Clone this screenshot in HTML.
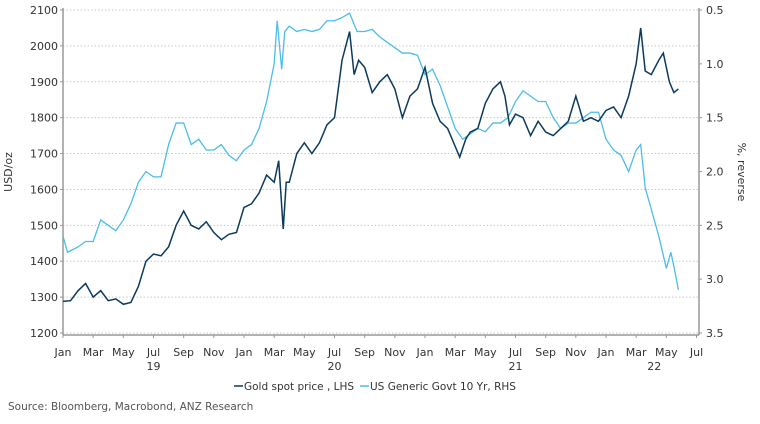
<!DOCTYPE html>
<html><head><meta charset="utf-8"><style>
body{margin:0;background:#fff;font-family:"Liberation Sans",sans-serif}
svg text{font-family:"DejaVu Sans","Liberation Sans",sans-serif;fill:#333}
</style></head><body>
<svg width="760" height="419">
<g id="grid"></g>
<g id="axes"></g>
<g id="series"></g>
<text x="12" y="172" font-size="11" transform="rotate(-90 12 172)" text-anchor="middle">USD/oz</text>
<text x="738" y="172" font-size="11" transform="rotate(90 738 172)" text-anchor="middle">%, reverse</text>
<g>
<line x1="234" y1="386" x2="243" y2="386" stroke="#0b3a5c" stroke-width="1.5"/>
<text x="244" y="390" font-size="10.5">Gold spot price , LHS</text>
<line x1="360" y1="386" x2="369" y2="386" stroke="#4bbde8" stroke-width="1.5"/>
<text x="370" y="390" font-size="10.5">US Generic Govt 10 Yr, RHS</text>
</g>
<text x="8" y="410" font-size="10.5" fill="#555" style="fill:#555">Source:  Bloomberg, Macrobond, ANZ Research</text>
</svg>
<script>
const goldT=[0,0.5,1,1.5,2,2.5,3,3.5,4,4.5,5,5.5,6,6.5,7,7.5,8,8.5,9,9.5,10,10.5,11,11.5,12,12.5,13,13.5,14,14.3,14.6,14.8,15,15.5,16,16.5,17,17.5,18,18.5,19,19.3,19.6,20,20.5,21,21.5,22,22.5,23,23.5,24,24.5,25,25.5,26,26.3,26.7,27,27.5,28,28.5,29,29.3,29.6,30,30.5,31,31.5,32,32.5,33,33.5,34,34.5,35,35.5,36,36.5,37,37.5,38,38.3,38.6,39,39.5,39.8,40.2,40.5,40.8];
const goldV=[1288,1290,1318,1338,1300,1318,1290,1295,1280,1285,1330,1400,1420,1415,1440,1500,1540,1500,1490,1510,1480,1460,1475,1480,1550,1560,1590,1640,1620,1680,1490,1620,1620,1700,1730,1700,1730,1780,1800,1960,2040,1920,1960,1940,1870,1900,1920,1880,1800,1860,1880,1940,1840,1790,1770,1720,1690,1740,1760,1770,1840,1880,1900,1860,1780,1810,1800,1750,1790,1760,1750,1770,1790,1860,1790,1800,1790,1820,1830,1800,1860,1950,2050,1930,1920,1960,1980,1900,1870,1880];
const yldT=[0,0.3,1,1.5,2,2.5,3,3.5,4,4.5,5,5.5,6,6.5,7,7.5,8,8.5,9,9.5,10,10.5,11,11.5,12,12.5,13,13.5,14,14.2,14.5,14.7,15,15.5,16,16.5,17,17.5,18,18.5,19,19.5,20,20.5,21,21.5,22,22.5,23,23.5,24,24.5,25,25.5,26,26.5,27,27.5,28,28.5,29,29.5,30,30.5,31,31.5,32,32.5,33,33.5,34,34.5,35,35.5,36,36.5,37,37.5,38,38.3,38.6,39,39.5,40,40.3,40.6,40.8];
const yldV=[2.6,2.75,2.7,2.65,2.65,2.45,2.5,2.55,2.45,2.3,2.1,2.0,2.05,2.05,1.75,1.55,1.55,1.75,1.7,1.8,1.8,1.75,1.85,1.9,1.8,1.75,1.6,1.35,1.0,0.6,1.05,0.7,0.65,0.7,0.68,0.7,0.68,0.6,0.6,0.57,0.53,0.7,0.7,0.68,0.75,0.8,0.85,0.9,0.9,0.92,1.1,1.05,1.2,1.4,1.6,1.7,1.65,1.6,1.63,1.55,1.55,1.5,1.35,1.25,1.3,1.35,1.35,1.5,1.6,1.55,1.55,1.5,1.45,1.45,1.7,1.8,1.85,2.0,1.8,1.75,2.15,2.35,2.6,2.9,2.75,2.95,3.1];
const leftTicks=[1200,1300,1400,1500,1600,1700,1800,1900,2000,2100];
const rightTicks=[0.5,1.0,1.5,2.0,2.5,3.0,3.5];
const monthLabels=["Jan","Mar","May","Jul","Sep","Nov"];
const yearLabels=["19","20","21","22"];
const X0=63,X1=699,Y0=10,Y1=333,PX=181/12;
const xS=t=>X0+t*PX;
const yL=v=>Y1-(v-1200)/900*(Y1-Y0);
const yR=v=>Y0+(v-0.5)/3*(Y1-Y0);
const NS="http://www.w3.org/2000/svg";
function mk(tag,attrs,parent){const e=document.createElementNS(NS,tag);for(const k in attrs)e.setAttribute(k,attrs[k]);parent.appendChild(e);return e;}
const grid=document.getElementById('grid'),axes=document.getElementById('axes'),ser=document.getElementById('series');
leftTicks.forEach(v=>{const y=yL(v);
 const g=mk('line',{x1:X0,x2:X1,y1:y,y2:y,stroke:'#c8c8c8','stroke-dasharray':'1.5,2'},grid);
 
 
 const t=mk('text',{x:X0-5,y:y+4,'font-size':11,'text-anchor':'end'},axes);t.textContent=v;
 
 
 mk('line',{x1:X0-3,x2:X0,y1:y,y2:y,stroke:'#999'},axes);
});
rightTicks.forEach(v=>{const y=yR(v);
 const t=mk('text',{x:X1+7,y:y+4,'font-size':11},axes);t.textContent=v.toFixed(1);
 
 
 mk('line',{x1:X1,x2:X1+3,y1:y,y2:y,stroke:'#999'},axes);
});
mk('line',{x1:X0,x2:X0,y1:Y0-2,y2:Y1+2,stroke:'#999','stroke-width':1.5},axes);
mk('line',{x1:X1,x2:X1,y1:Y0-2,y2:Y1+2,stroke:'#999','stroke-width':1.5},axes);
mk('line',{x1:X0,x2:X1,y1:Y1+2,y2:Y1+2,stroke:'#999','stroke-width':1.5},axes);
for(let m=0;m<=42;m+=2){const x=xS(m);
 mk('line',{x1:x,x2:x,y1:Y1+2,y2:Y1+5,stroke:'#999'},axes);
 const t=mk('text',{x:x,y:356,'font-size':11,'text-anchor':'middle'},axes);t.textContent=monthLabels[(m%12)/2];
 
 
}
yearLabels.forEach((yl,i)=>{const x=i==3?xS(39.2):xS(i*12+6);
 const t=mk('text',{x:x,y:370,'font-size':11,'text-anchor':'middle'},axes);t.textContent=yl;
 
 
});
const py=mk('polyline',{points:yldT.map((t,i)=>xS(t)+','+yR(yldV[i])).join(' '),fill:'none',stroke:'#4bbde8','stroke-width':1.3},ser);


const pg=mk('polyline',{points:goldT.map((t,i)=>xS(t)+','+yL(goldV[i])).join(' '),fill:'none',stroke:'#0b3a5c','stroke-width':1.5},ser);


</script>
</body></html>
